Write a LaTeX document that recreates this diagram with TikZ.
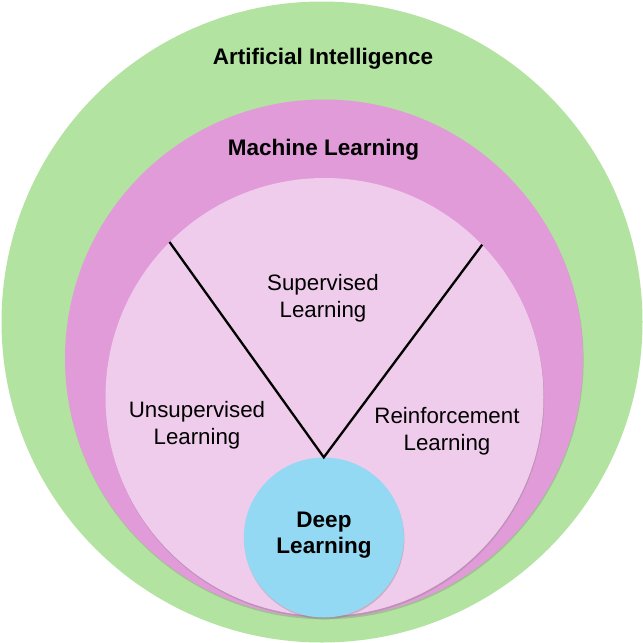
\documentclass[tikz,border=0pt]{standalone}
\usepackage{fontspec}
\setmainfont{Liberation Sans}
\usetikzlibrary{shadows}
\definecolor{aigreen}{RGB}{179,227,160}
\definecolor{mlpink}{RGB}{225,155,216}
\definecolor{sublight}{RGB}{240,204,236}
\definecolor{dlblue}{RGB}{148,217,243}
\begin{document}
\begin{tikzpicture}[x=1pt,y=-1pt,
  ring/.style={circle, draw=none, inner sep=0pt},
  softshadow/.style={drop shadow={opacity=0.35, shadow xshift=0.6pt, shadow yshift=-1.8pt}},
  boldlabel/.style={font=\bfseries\fontsize{22.5}{26}\selectfont, align=center, text=black},
  plainlabel/.style={font=\fontsize{22.3}{26.5}\selectfont, align=center, text=black},
  divider/.style={line width=2.3pt, black, line join=miter}]
\useasboundingbox (0,0) rectangle (643,643);
\node[ring, fill=aigreen, minimum size=641pt] (ai) at (322,322) {};
\node[ring, fill=mlpink, minimum size=518pt, softshadow] (ml) at (324,358.5) {};
\node[ring, fill=sublight, minimum size=438pt, softshadow] (sub) at (324.5,397) {};
\node[ring, fill=dlblue, minimum size=160pt, softshadow] (dl) at (323.8,537.5) {};
\draw[divider] (sub.135.5) -- (dl.north) -- (sub.44.5);
\node[boldlabel] (ailabel) at (323,59) {Artificial Intelligence};
\node[boldlabel] (mllabel) at (323.5,150) {Machine Learning};
\node[plainlabel] (suplabel) at (323,298) {Supervised\\Learning};
\node[plainlabel] (unlabel) at (197,425) {Unsupervised\\Learning};
\node[plainlabel] (relabel) at (447,431) {Reinforcement\\Learning};
\node[boldlabel] (dllabel) at (324,535) {Deep\\Learning};
\end{tikzpicture}
\end{document}
